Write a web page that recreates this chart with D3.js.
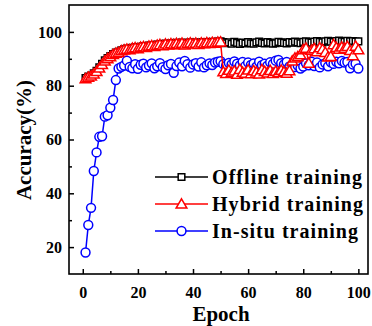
<!DOCTYPE html>
<html>
<head>
<meta charset="utf-8">
<script src="https://cdn.jsdelivr.net/npm/d3@7/dist/d3.min.js"></script>
<style>
  html, body { margin: 0; padding: 0; background: #fff; }
  svg { display: block; }
  text { font-family: "Liberation Serif", "Times New Roman", serif; font-weight: bold; fill: #000; }
</style>
</head>
<body>
<div id="chart"></div>
<script>
const seriesNames = ['Offline training', 'Hybrid training', 'In-situ training'];
const epochs = d3.range(1, 101);

const offline = [
  82.8, 83.4, 83.8, 84.6, 85.5, 86.8, 88.1, 89.4, 90.3, 91.0,
  91.8, 92.3, 92.6, 93.2, 93.5, 93.8, 93.6, 94.1, 94.3, 94.0,
  94.5, 94.7, 94.4, 94.9, 95.1, 94.8, 95.3, 95.5, 95.1, 95.7,
  95.4, 95.8, 95.5, 95.9, 95.6, 96.0, 95.4, 95.8, 96.1, 95.7,
  96.0, 95.6, 96.1, 95.8, 96.2, 95.9, 96.3, 96.0, 96.4, 96.5,
  96.2, 95.8, 96.1, 95.6, 96.3, 95.9, 95.5, 96.0, 95.7, 96.2,
  95.8, 95.6, 96.1, 96.4, 95.9, 95.7, 96.2, 96.0, 95.6, 95.8,
  96.3, 96.1, 95.9, 95.7, 96.2, 96.0, 96.4, 96.1, 95.8, 96.3,
  96.5, 96.2, 96.0, 96.4, 96.6, 96.3, 96.1, 96.5, 96.7, 96.4,
  96.2, 96.6, 96.8, 96.5, 96.3, 96.7, 96.5, 96.6, 96.4, 96.5
];

const hybrid = [
  82.6, 83.2, 83.6, 84.4, 85.3, 86.6, 87.9, 89.2, 90.1, 90.8,
  91.6, 92.1, 92.4, 93.0, 93.3, 93.6, 93.4, 93.9, 94.1, 93.8,
  94.3, 94.5, 94.2, 94.7, 94.9, 94.6, 95.1, 95.3, 94.9, 95.5,
  95.2, 95.6, 95.3, 95.7, 95.4, 95.8, 95.2, 95.6, 95.9, 95.5,
  95.8, 95.4, 95.9, 95.6, 96.0, 95.7, 96.1, 95.8, 96.2, 96.3,
  85.2, 84.6, 85.8, 84.9, 85.5, 84.3, 86.1, 85.0, 84.7, 85.9,
  84.5, 85.6, 85.1, 84.4, 86.0, 85.3, 84.8, 85.7, 84.6, 85.4,
  84.9, 85.8, 85.2, 84.7, 85.6, 89.2, 90.3, 90.8, 91.5, 93.4,
  94.0, 88.4, 93.2, 93.8, 92.7, 94.1, 93.5, 92.4, 90.7, 90.9,
  95.3, 94.2, 93.6, 94.4, 93.9, 94.6, 93.1, 91.2, 94.7, 93.4
];

const insitu = [
  18.0, 28.2, 34.6, 48.3, 55.2, 61.0, 61.2, 68.5, 69.0, 71.8,
  74.7, 82.1, 86.4, 87.0, 87.5, 89.3, 87.0, 86.5, 88.0, 86.3,
  87.8, 88.2, 86.8, 87.5, 88.3, 86.5, 87.2, 88.4, 86.9, 86.2,
  87.6, 88.1, 84.8, 87.3, 88.6, 87.2, 89.2, 88.0, 86.7, 87.9,
  88.4, 87.1, 88.7, 86.8, 87.6, 88.3, 87.7, 88.6, 88.9, 89.1,
  88.0, 87.4, 88.5, 87.9, 89.0, 88.2, 87.5, 88.8, 87.3, 88.6,
  87.7, 88.3, 87.1, 88.9, 87.6, 88.2, 87.4, 88.7, 88.1, 89.3,
  89.6, 88.4, 87.9, 88.8, 87.2, 87.8, 86.9, 87.5, 86.4, 87.1,
  88.3, 87.6, 88.9, 87.3, 88.6, 86.8, 87.9, 88.4, 87.2, 88.7,
  88.1, 88.9, 88.3, 89.2, 88.6, 88.8, 86.5, 87.9, 88.2, 86.4
];

const xTicks = [0, 20, 40, 60, 80, 100];
const yTicks = [20, 40, 60, 80, 100];
const xMinor = [10, 30, 50, 70, 90];
const yMinor = [30, 50, 70, 90];

const width = 372, height = 326;
const margin = { left: 69, right: 4, top: 5, bottom: 52 };

const svg = d3.select('#chart').append('svg')
  .attr('width', width)
  .attr('height', height);

const x = d3.scaleLinear().domain([-5, 103.5]).range([margin.left, width - margin.right]);
const y = d3.scaleLinear().domain([10, 110]).range([height - margin.bottom, margin.top]);

const symbols = {
  offline: d3.symbol().type(d3.symbolSquare).size(44),
  hybrid: d3.symbol().type(d3.symbolTriangle).size(50),
  insitu: d3.symbol().type(d3.symbolCircle).size(62)
};

const series = [
  { key: 'insitu', values: insitu, color: '#0000ff', sym: symbols.insitu, name: seriesNames[2], legW: 146 },
  { key: 'offline', values: offline, color: '#000000', sym: symbols.offline, name: seriesNames[0], legW: 150 },
  { key: 'hybrid', values: hybrid, color: '#ff0000', sym: symbols.hybrid, name: seriesNames[1], legW: 151 }
];

const line = d3.line()
  .x((d, i) => x(epochs[i]))
  .y(d => y(d));

series.forEach(s => {
  const g = svg.append('g');
  g.append('path')
    .attr('d', line(s.values))
    .attr('fill', 'none')
    .attr('stroke', s.color)
    .attr('stroke-width', 1.5);
  g.selectAll('path.pt')
    .data(s.values)
    .enter().append('path')
    .attr('class', 'pt')
    .attr('d', s.sym)
    .attr('transform', (d, i) => `translate(${x(epochs[i])},${y(d) + (s.key === 'hybrid' ? 1 : 0)})`)
    .attr('fill', '#fff')
    .attr('stroke', s.color)
    .attr('stroke-width', 1.5);
});

// frame
svg.append('rect')
  .attr('x', margin.left)
  .attr('y', margin.top)
  .attr('width', width - margin.right - margin.left)
  .attr('height', height - margin.bottom - margin.top)
  .attr('fill', 'none')
  .attr('stroke', '#000')
  .attr('stroke-width', 1.6);

// bottom axis
const xAxis = svg.append('g')
  .attr('transform', `translate(0,${height - margin.bottom})`)
  .call(d3.axisBottom(x).tickValues(xTicks).tickSize(-5).tickPadding(10).tickFormat(d3.format('d')));
xAxis.select('.domain').remove();
xAxis.selectAll('line').attr('stroke-width', 1.5);
xAxis.selectAll('text').style('font-size', '16px').attr('y', 13).attr('dy', '0.71em');
svg.append('g')
  .attr('transform', `translate(0,${height - margin.bottom})`)
  .call(d3.axisBottom(x).tickValues(xMinor).tickSize(-3).tickFormat(''))
  .call(g => g.select('.domain').remove())
  .selectAll('line').attr('stroke-width', 1.5);

// left axis
const yAxis = svg.append('g')
  .attr('transform', `translate(${margin.left},0)`)
  .call(d3.axisLeft(y).tickValues(yTicks).tickSize(-5).tickPadding(7).tickFormat(d3.format('d')));
yAxis.select('.domain').remove();
yAxis.selectAll('line').attr('stroke-width', 1.5);
yAxis.selectAll('text').style('font-size', '16px');
svg.append('g')
  .attr('transform', `translate(${margin.left},0)`)
  .call(d3.axisLeft(y).tickValues(yMinor).tickSize(-3).tickFormat(''))
  .call(g => g.select('.domain').remove())
  .selectAll('line').attr('stroke-width', 1.5);

svg.selectAll('.tick text').attr('fill', '#000');

// axis titles
svg.append('text')
  .attr('x', 221)
  .attr('y', 321)
  .attr('text-anchor', 'middle')
  .style('font-size', '21px')
  .text('Epoch');

svg.append('text')
  .attr('transform', 'translate(31,140) rotate(-90)')
  .attr('text-anchor', 'middle')
  .style('font-size', '21px')
  .text('Accuracy(%)');

// legend
const legendOrder = [series[1], series[2], series[0]];
const legend = svg.append('g');
legendOrder.forEach((s, i) => {
  const cy = 177 + i * 27;
  legend.append('line')
    .attr('x1', 155).attr('x2', 208)
    .attr('y1', cy).attr('y2', cy)
    .attr('stroke', s.color).attr('stroke-width', 1.5);
  legend.append('path')
    .attr('d', s.sym)
    .attr('transform', `translate(181.5,${cy + (s.key === 'hybrid' ? 1 : 0)})`)
    .attr('fill', '#fff')
    .attr('stroke', s.color)
    .attr('stroke-width', 1.5);
  legend.append('text')
    .attr('x', 212)
    .attr('y', cy + 7)
    .style('font-size', '20px')
    .attr('textLength', s.legW)
    .attr('lengthAdjust', 'spacing')
    .text(s.name);
});
</script>
</body>
</html>
